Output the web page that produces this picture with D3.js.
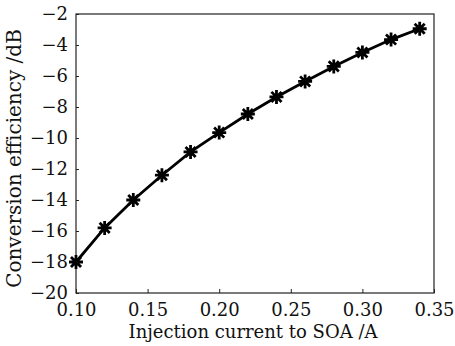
<!DOCTYPE html>
<html>
<head>
<meta charset="utf-8">
<script src="https://d3js.org/d3.v7.min.js"></script>
<style>
  body { margin: 0; background: #fff; }
  text { font-family: "DejaVu Serif", serif; fill: #111; }
</style>
</head>
<body>
<div id="chart"></div>
<script>
// data
const current = [0.10, 0.12, 0.14, 0.16, 0.18, 0.20, 0.22, 0.24, 0.26, 0.28, 0.30, 0.32, 0.34];
const efficiency = [-18.0, -15.8, -14.0, -12.4, -10.9, -9.65, -8.45, -7.35, -6.35, -5.38, -4.48, -3.65, -2.95];
const xTicks = [0.10, 0.15, 0.20, 0.25, 0.30, 0.35];
const yTicks = [-20, -18, -16, -14, -12, -10, -8, -6, -4, -2];

const W = 455, H = 346;
const margin = {top: 14, right: 21, bottom: 53, left: 76};
const width = W - margin.left - margin.right,
      height = H - margin.top - margin.bottom;
const FONT = "DejaVu Serif, serif";

const svg = d3.select("#chart").append("svg")
    .attr("width", W)
    .attr("height", H);

const g = svg.append("g")
    .attr("transform", `translate(${margin.left},${margin.top})`);

const x = d3.scaleLinear().domain([0.10, 0.35]).range([0, width]);
const y = d3.scaleLinear().domain([-20, -2]).range([height, 0]);

// frame
g.append("rect")
    .attr("width", width)
    .attr("height", height)
    .attr("fill", "none")
    .attr("stroke", "#222")
    .attr("stroke-width", 1.2);

const fmtMinus = s => s.replace("-", "\u2212");

// x axis
const xAxis = g.append("g")
    .attr("transform", `translate(0,${height})`)
    .call(d3.axisBottom(x).tickValues(xTicks).tickFormat(d3.format(".2f"))
        .tickSizeInner(-4).tickSizeOuter(0).tickPadding(10));
xAxis.select(".domain").remove();
xAxis.selectAll("line").attr("stroke", "#222");
xAxis.selectAll("text").attr("font-size", 18)
    .attr("font-family", FONT).attr("fill", "#111");

// y axis
const yAxis = g.append("g")
    .call(d3.axisLeft(y).tickValues(yTicks).tickFormat(d => fmtMinus(String(d)))
        .tickSizeInner(-3).tickSizeOuter(0).tickPadding(8));
yAxis.select(".domain").remove();
yAxis.selectAll("line").attr("stroke", "#222");
yAxis.selectAll("text").attr("font-size", 18)
    .attr("font-family", FONT).attr("fill", "#111");

// axis titles
svg.append("text")
    .attr("x", margin.left + width / 2 - 2)
    .attr("y", 338)
    .attr("text-anchor", "middle")
    .attr("font-size", 18)
    .text("Injection current to SOA /A");

svg.append("text")
    .attr("transform", `translate(21,${margin.top + height / 2 + 5}) rotate(-90)`)
    .attr("text-anchor", "middle")
    .attr("font-size", 20)
    .text("Conversion efficiency /dB");

const data = current.map((c, i) => ({c: c, v: efficiency[i]}));

// line
g.append("path")
    .datum(data)
    .attr("fill", "none")
    .attr("stroke", "#000")
    .attr("stroke-width", 2.8)
    .attr("d", d3.line().x(d => x(d.c)).y(d => y(d.v)));

// asterisk markers (plus + cross)
const r = 7, rd = r * 0.72;
const star = `M${-r},0L${r},0M0,${-r}L0,${r}M${-rd},${-rd}L${rd},${rd}M${-rd},${rd}L${rd},${-rd}`;
g.selectAll(".mk")
    .data(data)
    .enter().append("path")
    .attr("class", "mk")
    .attr("transform", d => `translate(${x(d.c)},${y(d.v)})`)
    .attr("d", star)
    .attr("stroke", "#000")
    .attr("stroke-width", 2.8)
    .attr("fill", "none");
</script>
</body>
</html>
